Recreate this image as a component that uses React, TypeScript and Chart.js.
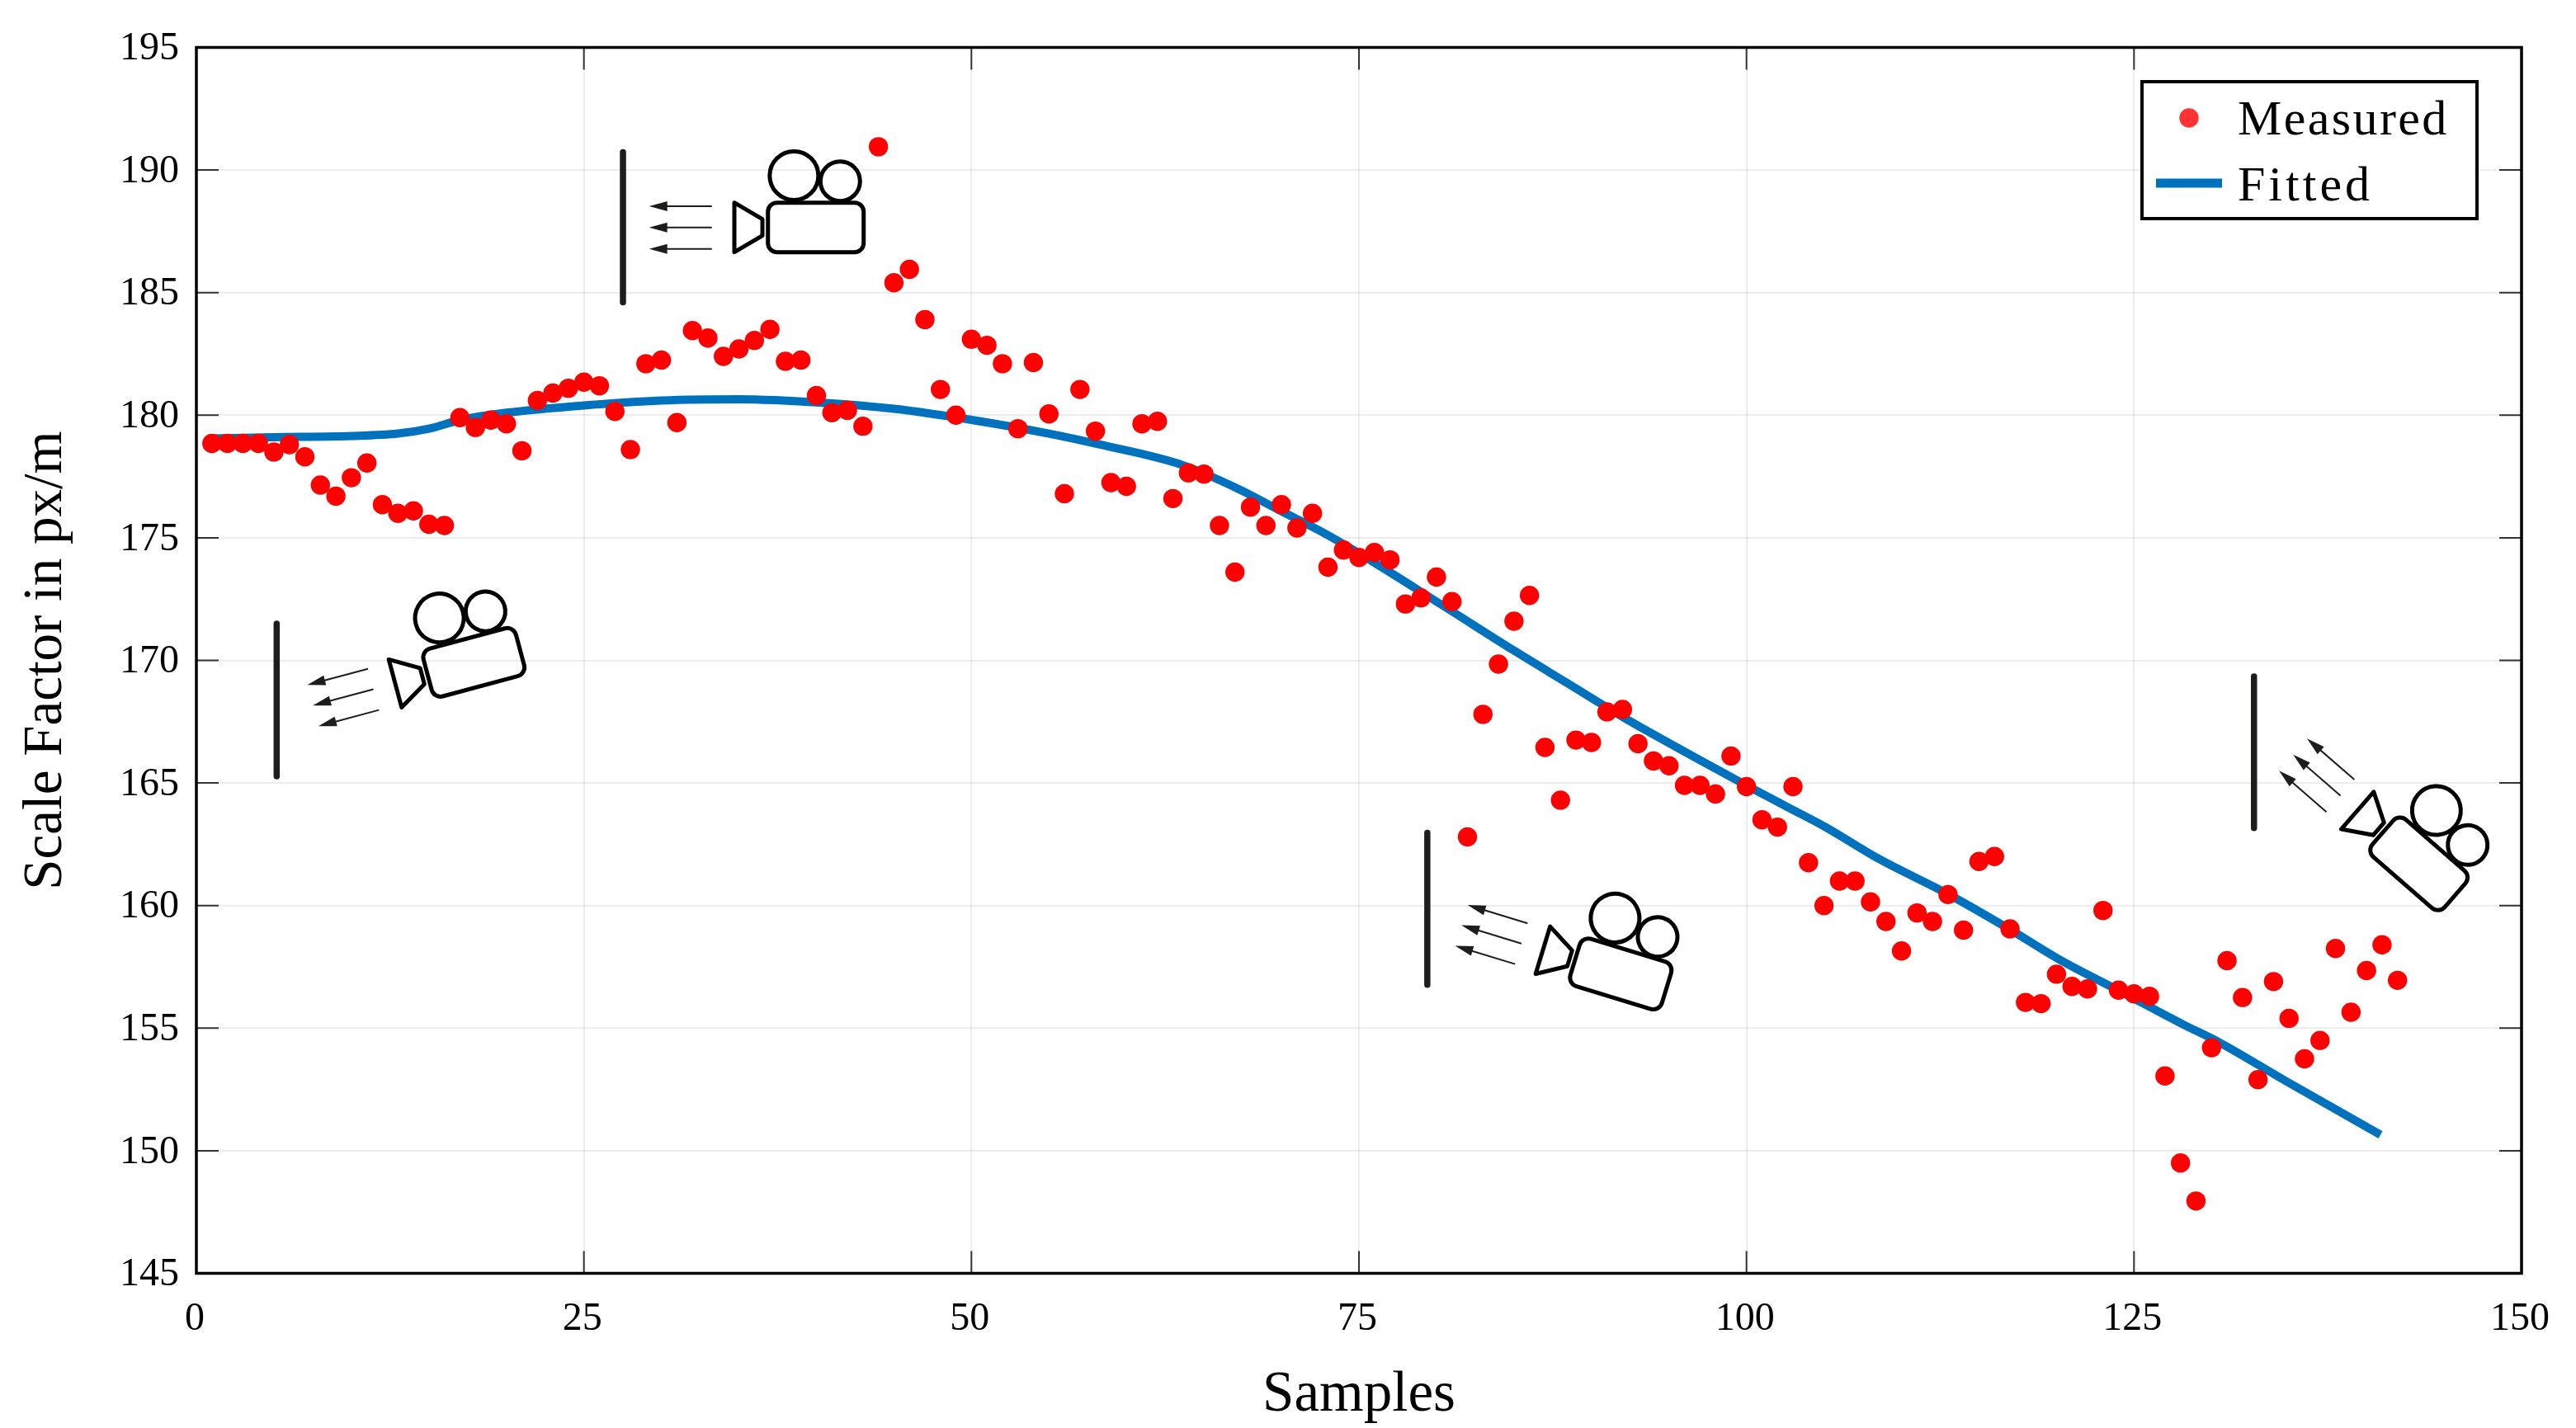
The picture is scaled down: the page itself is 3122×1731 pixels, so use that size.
import React, { useEffect, useRef } from 'react';
import { Chart, registerables } from 'chart.js';

Chart.register(...registerables);

const FONT = '"Liberation Serif", "Times New Roman", serif';

const measured = [
  178.85, 178.85, 178.85, 178.85, 178.5, 178.8, 178.3, 177.15, 176.7, 177.45,
  178.05, 176.35, 176.0, 176.1, 175.55, 175.5, 179.9, 179.5, 179.8, 179.65,
  178.55, 180.6, 180.9, 181.1, 181.35, 181.2, 180.15, 178.6, 182.1, 182.25,
  179.7, 183.45, 183.15, 182.4, 182.7, 183.05, 183.5, 182.2, 182.25, 180.8,
  180.1, 180.2, 179.55, 190.95, 185.4, 185.95, 183.9, 181.05, 180.0, 183.1,
  182.85, 182.1, 179.45, 182.15, 180.05, 176.8, 181.05, 179.35, 177.25, 177.1,
  179.65, 179.75, 176.6, 177.65, 177.6, 175.5, 173.6, 176.25, 175.5, 176.35,
  175.4, 176.0, 173.8, 174.5, 174.2, 174.4, 174.1, 172.3, 172.55, 173.4,
  172.4, 162.8, 167.8, 169.85, 171.6, 172.65, 166.45, 164.3, 166.75, 166.65,
  167.9, 168.0, 166.6, 165.9, 165.7, 164.9, 164.9, 164.55, 166.1, 164.85,
  163.5, 163.2, 164.85, 161.75, 160.0, 161.0, 161.0, 160.15, 159.35, 158.15,
  159.7, 159.35, 160.45, 159.0, 161.8, 162.0, 159.05, 156.05, 156.0, 157.2,
  156.7, 156.6, 159.8, 156.55, 156.4, 156.3, 153.05, 149.5, 147.95, 154.2,
  157.75, 156.25, 152.9, 156.9, 155.4, 153.75, 154.5, 158.25, 155.65, 157.35,
  158.4, 156.95,
];

const fittedSamples = [
  1, 5, 10, 13, 15, 17, 20, 25, 30, 35, 40.6, 45, 50, 55, 58.3, 63.6, 67.2, 70,
  72.5, 75, 80.5, 85, 88.5, 92, 93.8, 100, 102.7, 105.1, 108.5, 113, 116.9,
  120.4, 124, 128.2, 130.5, 134.8, 140.9,
];
const fitted = [
  179.05, 179.1, 179.15, 179.25, 179.45, 179.8, 180.1, 180.4, 180.6, 180.65,
  180.5, 180.26, 179.81, 179.25, 178.8, 177.97, 177.0, 176.08,
  175.28, 174.37, 172.2, 170.4, 169.05, 167.7, 167.05, 164.9, 164.0, 163.2, 161.92, 160.47, 159.06,
  157.72, 156.54, 155.14, 154.42, 152.84, 150.65,
];

// little camera sketches, anchored in data units
const cameras = [
  { x: 39.96, y: 187.66, deg: 0 },
  { x: 17.9, y: 169.92, deg: -15 },
  { x: 91.89, y: 157.21, deg: 17 },
  { x: 143.38, y: 161.7, deg: 41 },
];
const walls = [
  { x: 27.52, top: 190.73, bottom: 184.6 },
  { x: 5.18, top: 171.5, bottom: 165.27 },
  { x: 79.41, top: 162.97, bottom: 156.77 },
  { x: 132.74, top: 169.34, bottom: 163.16 },
];

const drawCamera = (ctx: CanvasRenderingContext2D, cx: number, cy: number, deg: number) => {
  ctx.save();
  ctx.translate(cx, cy);
  ctx.rotate((deg * Math.PI) / 180);
  ctx.strokeStyle = '#000';
  ctx.lineWidth = 5;
  ctx.lineJoin = 'round';
  ctx.beginPath();
  ctx.roundRect(-58, -30, 116, 60, 11);
  ctx.stroke();
  ctx.beginPath();
  ctx.moveTo(-98.7, -30);
  ctx.lineTo(-64.7, -10);
  ctx.lineTo(-64.7, 10);
  ctx.lineTo(-98.7, 30);
  ctx.closePath();
  ctx.stroke();
  ctx.beginPath();
  ctx.arc(-26.4, -62.7, 29.5, 0, Math.PI * 2);
  ctx.stroke();
  ctx.beginPath();
  ctx.arc(29.6, -56, 24, 0, Math.PI * 2);
  ctx.stroke();
  // arrows towards the wall
  ctx.strokeStyle = '#1d1d1b';
  ctx.fillStyle = '#1d1d1b';
  ctx.lineWidth = 2;
  for (const ay of [-25.7, 0, 26]) {
    ctx.beginPath();
    ctx.moveTo(-126, ay);
    ctx.lineTo(-190, ay);
    ctx.stroke();
    ctx.beginPath();
    ctx.moveTo(-202, ay);
    ctx.lineTo(-180, ay - 6);
    ctx.lineTo(-180, ay + 6);
    ctx.closePath();
    ctx.fill();
  }
  ctx.restore();
};

const sketchPlugin = {
  id: 'sketches',
  afterDatasetsDraw(chart: any) {
    const { ctx, scales } = chart;
    ctx.save();
    ctx.strokeStyle = '#1d1d1b';
    ctx.lineWidth = 7.5;
    ctx.lineCap = 'round';
    for (const w of walls) {
      ctx.beginPath();
      ctx.moveTo(scales.x.getPixelForValue(w.x), scales.y.getPixelForValue(w.top));
      ctx.lineTo(scales.x.getPixelForValue(w.x), scales.y.getPixelForValue(w.bottom));
      ctx.stroke();
    }
    ctx.restore();
    for (const c of cameras) {
      drawCamera(ctx, scales.x.getPixelForValue(c.x), scales.y.getPixelForValue(c.y), c.deg);
    }
  },
};

// pgfplots style box: inward ticks on all four sides
const framePlugin = {
  id: 'frame',
  afterDraw(chart: any) {
    const { ctx, chartArea: a, scales } = chart;
    const len = 27;
    ctx.save();
    ctx.strokeStyle = '#333';
    ctx.lineWidth = 2;
    ctx.beginPath();
    for (const t of scales.x.ticks) {
      const px = scales.x.getPixelForValue(t.value);
      ctx.moveTo(px, a.bottom);
      ctx.lineTo(px, a.bottom - len);
      ctx.moveTo(px, a.top);
      ctx.lineTo(px, a.top + len);
    }
    for (const t of scales.y.ticks) {
      const py = scales.y.getPixelForValue(t.value);
      ctx.moveTo(a.left, py);
      ctx.lineTo(a.left + len, py);
      ctx.moveTo(a.right, py);
      ctx.lineTo(a.right - len, py);
    }
    ctx.stroke();
    ctx.strokeStyle = '#000';
    ctx.lineWidth = 3.5;
    ctx.strokeRect(a.left, a.top, a.right - a.left, a.bottom - a.top);
    ctx.restore();
  },
};

const legendPlugin = {
  id: 'boxLegend',
  afterDraw(chart: any) {
    const { ctx } = chart;
    const [dots, line] = chart.data.datasets;
    const x0 = 2596;
    const y0 = 99;
    const w = 406;
    const h = 166;
    ctx.save();
    ctx.fillStyle = '#fff';
    ctx.fillRect(x0, y0, w, h);
    ctx.strokeStyle = '#000';
    ctx.lineWidth = 4;
    ctx.strokeRect(x0, y0, w, h);
    ctx.fillStyle = dots.backgroundColor;
    ctx.globalAlpha = 0.8;
    ctx.beginPath();
    ctx.arc(x0 + 57, y0 + 44, 11.7, 0, Math.PI * 2);
    ctx.fill();
    ctx.globalAlpha = 1;
    ctx.strokeStyle = line.borderColor;
    ctx.lineWidth = 11;
    ctx.beginPath();
    ctx.moveTo(x0 + 17, y0 + 123);
    ctx.lineTo(x0 + 97, y0 + 123);
    ctx.stroke();
    ctx.fillStyle = '#000';
    ctx.font = `60px ${FONT}`;
    ctx.textBaseline = 'alphabetic';
    (ctx as any).letterSpacing = '2.4px';
    ctx.fillText(dots.label, x0 + 116, y0 + 64);
    (ctx as any).letterSpacing = '4px';
    ctx.fillText(line.label, x0 + 116, y0 + 144);
    ctx.restore();
  },
};

const background = {
  id: 'whiteBg',
  beforeDraw(chart: any) {
    chart.ctx.fillStyle = '#fff';
    chart.ctx.fillRect(0, 0, chart.width, chart.height);
  },
};

export default function App() {
  const canvasRef = useRef<HTMLCanvasElement | null>(null);

  useEffect(() => {
    if (!canvasRef.current) return;
    const chart = new Chart(canvasRef.current, {
      type: 'scatter',
      data: {
        datasets: [
          {
            label: 'Measured',
            data: measured.map((y, i) => ({ x: i + 1, y })),
            backgroundColor: '#ff0000',
            borderWidth: 0,
            pointRadius: 11.7,
            order: 1,
          },
          {
            label: 'Fitted',
            data: fitted.map((y, i) => ({ x: fittedSamples[i], y })),
            showLine: true,
            borderColor: '#0072bd',
            borderWidth: 10,
            pointRadius: 0,
            cubicInterpolationMode: 'monotone',
            order: 2,
          },
        ],
      },
      options: {
        responsive: false,
        devicePixelRatio: 1,
        animation: false,
        layout: { padding: { top: 57.5, right: 66, left: 0, bottom: 0 } },
        plugins: { legend: { display: false }, tooltip: { enabled: false } },
        scales: {
          x: {
            type: 'linear',
            min: 0,
            max: 150,
            afterFit: (s: any) => { s.height = 187.5; },
            ticks: { stepSize: 25, padding: 27, labelOffset: -2, color: '#000', maxRotation: 0, font: { family: FONT, size: 48 } },
            grid: { color: 'rgba(0,0,0,0.07)', lineWidth: 2, drawTicks: false },
            border: { display: false },
            title: {
              display: true,
              text: 'Samples',
              color: '#000',
              font: { family: FONT, size: 69, lineHeight: 1.1 },
              padding: { top: 0, bottom: 1 },
            },
          },
          y: {
            type: 'linear',
            min: 145,
            max: 195,
            afterFit: (s: any) => { s.width = 238; },
            ticks: { stepSize: 5, padding: 21, labelOffset: 2, color: '#000', font: { family: FONT, size: 48 } },
            grid: { color: 'rgba(0,0,0,0.07)', lineWidth: 2, drawTicks: false },
            border: { display: false },
            title: {
              display: true,
              text: 'Scale Factor in px/m',
              color: '#000',
              font: { family: FONT, size: 67 },
              padding: { top: 16, bottom: 0 },
            },
          },
        },
      } as any,
      plugins: [background, sketchPlugin, framePlugin, legendPlugin],
    });
    return () => {
      chart.destroy();
    };
  }, []);

  return (
    <div style={{ position: 'fixed', left: 0, top: 0, width: 3122, height: 1731, background: '#fff' }}>
      <canvas ref={canvasRef} width={3122} height={1731} style={{ display: 'block' }} />
    </div>
  );
}
